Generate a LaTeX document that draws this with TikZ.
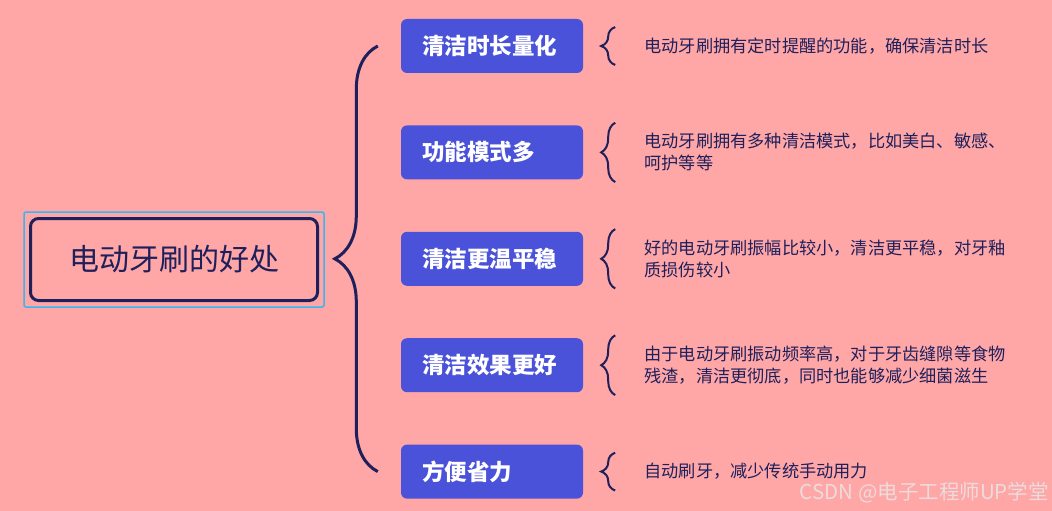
\documentclass[tikz,border=0pt]{standalone}
\usepackage{fontspec}
\setmainfont{Noto Sans CJK SC}
\usetikzlibrary{positioning,calc,decorations.pathreplacing}

\definecolor{bgpink}{RGB}{255,166,166}
\definecolor{navy}{RGB}{30,32,92}
\definecolor{topicblue}{RGB}{74,82,217}
\definecolor{rootcyan}{RGB}{56,182,240}
\definecolor{wmgrey}{RGB}{236,220,220}

\begin{document}
\begin{tikzpicture}[x=1pt, y=-1pt, node distance=52pt,
    root/.style={draw=navy, line width=3pt, rounded corners=8pt, minimum width=287pt,
                 minimum height=82pt, text=navy, font=\fontsize{30}{34}\selectfont},
    topic/.style={fill=topicblue, rounded corners=6pt, text width=140pt, inner xsep=21pt,
                  minimum height=54pt, align=left, text=white,
                  font=\fontsize{22.5}{26}\selectfont\bfseries},
    desc/.style={inner xsep=0pt, inner ysep=10.5pt, align=left, text=navy,
                 font=\fontsize{17.2}{22}\selectfont},
    bigbrace/.style={draw=navy, line width=3pt, decorate, decoration={brace, amplitude=43pt}},
    smallbrace/.style={draw=navy, line width=2pt, decorate, decoration={brace, amplitude=14pt}}]
  \fill[bgpink] (0,0) rectangle (1052,511);

  \node[root] (root) at (174,259.5) {电动牙刷的好处};
  \draw[rootcyan, line width=1.5pt, rounded corners=2pt]
    ($(root.north west)+(-5,-5)$) rectangle ($(root.south east)+(5,5)$);

  \node[topic] (b1) at (492,46) {清洁时长量化};
  \node[topic, below=of b1] (b2) {功能模式多};
  \node[topic, below=of b2] (b3) {清洁更温平稳};
  \node[topic, below=of b3] (b4) {清洁效果更好};
  \node[topic, below=of b4] (b5) {方便省力};

  \draw[bigbrace] ($(b5.west)+(-23,0)$) -- ($(b1.west)+(-23,0)$);

  \node[desc, right=61pt of b1] (d1) {电动牙刷拥有定时提醒的功能，确保清洁时长};
  \node[desc, right=61pt of b2] (d2) {电动牙刷拥有多种清洁模式，比如美白、敏感、\\呵护等等};
  \node[desc, right=61pt of b3] (d3) {好的电动牙刷振幅比较小，清洁更平稳，对牙釉\\质损伤较小};
  \node[desc, right=61pt of b4] (d4) {由于电动牙刷振动频率高，对于牙齿缝隙等食物\\残渣，清洁更彻底，同时也能够减少细菌滋生};
  \node[desc, right=61pt of b5] (d5) {自动刷牙，减少传统手动用力};

  \foreach \d in {d1,d2,d3,d4,d5}
    \draw[smallbrace] ([xshift=-29pt]\d.south west) -- ([xshift=-29pt]\d.north west);

  \node[anchor=east, inner sep=0pt, text=wmgrey, font=\fontsize{20.5}{22}\selectfont] (wm)
    at (1049,493) {CSDN @电子工程师UP学堂};
\end{tikzpicture}
\end{document}
